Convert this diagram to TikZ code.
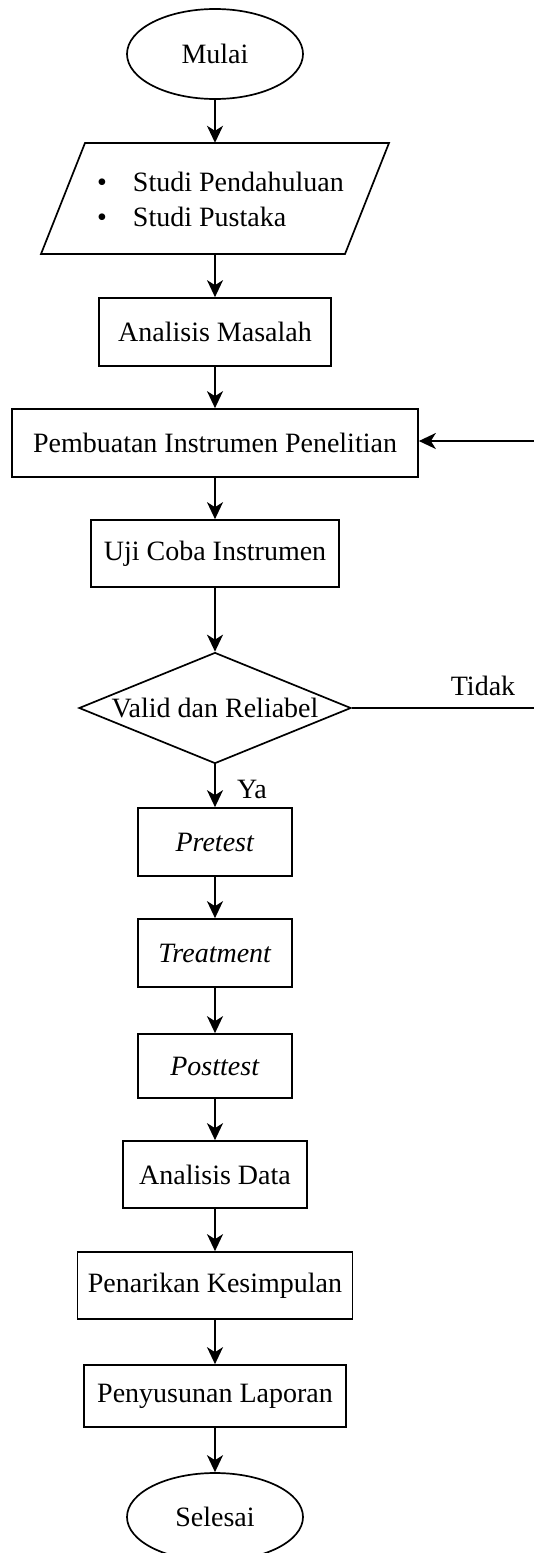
\documentclass[tikz,border=0pt]{standalone}
\usepackage{fontspec}
\setmainfont{Liberation Serif}
\usetikzlibrary{shapes.geometric,arrows.meta}
\begin{document}
\begin{tikzpicture}[x=1pt,y=1pt,
  font=\fontsize{28}{35}\selectfont,
  lw/.style={line width=1.7pt},
  procbox/.style={draw,lw,rectangle,inner sep=0pt},
  termin/.style={draw,lw,ellipse,inner sep=0pt,minimum width=176pt,minimum height=90pt},
  flow/.style={lw,-{Stealth[length=17pt,width=16pt,inset=5pt]}},
  plain/.style={lw}]
\useasboundingbox (0,0) rectangle (534,-1553);
\fill[white] (0,0) rectangle (534,-1553);
% nodes
\node[termin] (mulai) at (215,-54) {Mulai};
\node[inner sep=0pt,minimum width=348pt,minimum height=111pt] (studi) at (215,-198.5) {};
\draw[lw,line join=miter] (41,-254) -- (85,-143) -- (389,-143) -- (345,-254) -- cycle;
\node[anchor=west,inner sep=0pt] (studitext) at (97,-201.5) {\begin{tabular}{@{}l@{\hspace{26pt}}l@{}}\textbullet & Studi Pendahuluan\\ \textbullet & Studi Pustaka\end{tabular}};
\node[procbox,minimum width=232pt,minimum height=68pt] (analisis) at (215,-332) {Analisis Masalah};
\node[procbox,minimum width=406pt,minimum height=68pt] (pembuatan) at (215,-443) {Pembuatan Instrumen Penelitian};
\node[procbox,minimum width=248pt,minimum height=67pt] (uji) at (215,-553.5) {Uji Coba Instrumen};
\node[draw,lw,diamond,inner sep=0pt,minimum width=272pt,minimum height=111pt] (valid) at (215,-708) {};
\node (validtext) at (215,-708) {Valid dan Reliabel};
\node[procbox,minimum width=154pt,minimum height=68pt] (pretest) at (215,-842) {\textit{Pretest}};
\node[procbox,minimum width=154pt,minimum height=68pt] (treatment) at (215,-953) {\textit{Treatment}};
\node[procbox,minimum width=154pt,minimum height=64pt] (posttest) at (215,-1066) {\textit{Posttest}};
\node[procbox,minimum width=184pt,minimum height=67pt] (data) at (215,-1174.5) {Analisis Data};
\node[procbox,minimum width=275pt,minimum height=67pt] (penarikan) at (215,-1285.5) {Penarikan Kesimpulan};
\node[procbox,minimum width=262pt,minimum height=62pt] (penyusunan) at (215,-1396) {Penyusunan Laporan};
\node[termin,minimum height=88pt] (selesai) at (215,-1517) {Selesai};
\node (tidak) at (483,-686) {Tidak};
\node (ya) at (252,-789) {Ya};
\coordinate (edgeA) at (534,-708);
\coordinate (edgeB) at (534,-441);
% connectors
\draw[flow] (mulai) -- (studi);
\draw[flow] (studi) -- (analisis);
\draw[flow] (analisis) -- (pembuatan);
\draw[flow] (pembuatan) -- (uji);
\draw[flow] (uji) -- (valid);
\draw[flow] (valid) -- (pretest);
\draw[flow] (pretest) -- (treatment);
\draw[flow] (treatment) -- (posttest);
\draw[flow] (posttest) -- (data);
\draw[flow] (data) -- (penarikan);
\draw[flow] (penarikan) -- (penyusunan);
\draw[flow] (penyusunan) -- (selesai);
\draw[plain] (valid.east) -- (edgeA);
\draw[flow] (edgeB) -- (pembuatan.east |- edgeB);
\end{tikzpicture}
\end{document}
